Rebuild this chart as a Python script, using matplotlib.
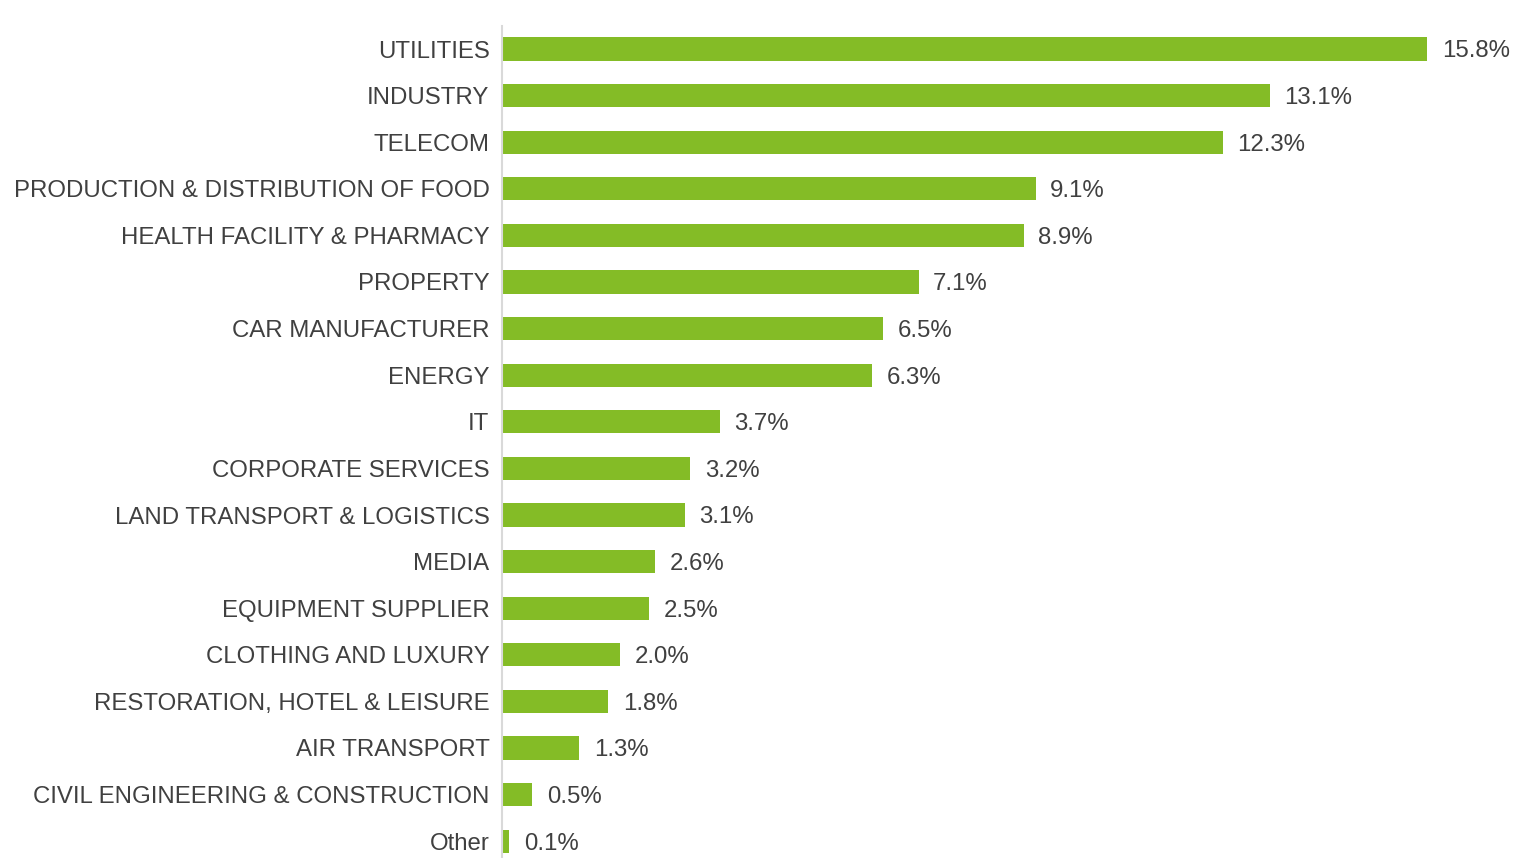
import numpy as np
import matplotlib.pyplot as plt

plt.rcParams['font.family'] = ['Liberation Sans', 'DejaVu Sans']

sectors = ["UTILITIES", "INDUSTRY", "TELECOM", "PRODUCTION & DISTRIBUTION OF FOOD",
           "HEALTH FACILITY & PHARMACY", "PROPERTY", "CAR MANUFACTURER", "ENERGY", "IT",
           "CORPORATE SERVICES", "LAND TRANSPORT & LOGISTICS", "MEDIA",
           "EQUIPMENT SUPPLIER", "CLOTHING AND LUXURY", "RESTORATION, HOTEL & LEISURE",
           "AIR TRANSPORT", "CIVIL ENGINEERING & CONSTRUCTION", "Other"]
shares = [15.8, 13.1, 12.3, 9.1, 8.9, 7.1, 6.5, 6.3, 3.7, 3.2, 3.1, 2.6, 2.5, 2.0, 1.8, 1.3, 0.5, 0.1]

W, H = 1514, 858
fig = plt.figure(figsize=(W / 100, H / 100), dpi=100)
# axes in pixel coordinates: left edge at the grey axis line
x0, y_top, y_bot = 502, 26, 858
ax = fig.add_axes([x0 / W, 0, 1 - x0 / W, (H - y_top) / H])

green = "#84BC26"
txt = "#404040"
fs = 17.3
y = np.arange(len(sectors))
ax.barh(y, shares, height=0.5, color=green, left=0.02)

for yi, v in zip(y, shares):
    ax.text(v + 0.27, yi + 0.05, f"{v:.1f}%", va="center", ha="left", fontsize=fs, color=txt)

ax.set_yticks(y)
ax.set_yticklabels(sectors, fontsize=fs, color=txt)
ax.tick_params(axis="y", length=0, pad=9)
ax.set_xticks([])
ax.set_xlim(0, (W - x0) / 58.5)
ax.set_ylim((y_bot - 49) / 46.6, (y_top - 49) / 46.6)

for s in ["top", "right", "bottom"]:
    ax.spines[s].set_visible(False)
ax.spines["left"].set_color("#D9D9D9")
ax.spines["left"].set_linewidth(1.5)

fig.savefig("out.png", dpi=100)
